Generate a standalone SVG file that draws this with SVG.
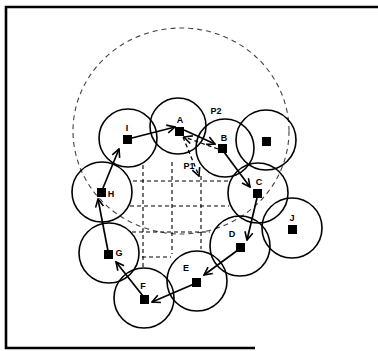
<svg xmlns="http://www.w3.org/2000/svg" width="378" height="351" viewBox="0 0 378 351">
<defs>
<marker id="ah" viewBox="0 0 10 10" refX="9" refY="5" markerWidth="10" markerHeight="10" markerUnits="userSpaceOnUse" orient="auto">
<path d="M1,1 L9,5 L1,9" fill="none" stroke="#000" stroke-width="1.6"/>
</marker>
</defs>
<style>
.rng{fill:none;stroke:#000;stroke-width:1.6}
.sq{fill:#000}
.lbl{font-family:"Liberation Sans",Arial,sans-serif;font-size:9px;font-weight:bold;fill:#000;text-anchor:middle}
.arr{fill:none;stroke:#000;stroke-width:1.7;marker-end:url(#ah)}
.darr{fill:none;stroke:#000;stroke-width:1.3;stroke-dasharray:4 3;marker-end:url(#ah)}
.grid{fill:none;stroke:#000;stroke-width:1.1;stroke-dasharray:4 3}
.big{fill:none;stroke:#444;stroke-width:1.1;stroke-dasharray:5 4}
.frame{fill:none;stroke:#000;stroke-width:2.6}
</style>
<rect width="378" height="351" fill="#fff"/>
<path class="frame" d="M378,7 L6,7 L6,348 L255,348"/>
<ellipse class="big" cx="181" cy="131" rx="108" ry="103"/>
<g id="grid">
<line class="grid" x1="133" y1="181" x2="228" y2="181"/>
<line class="grid" x1="130" y1="206" x2="229" y2="206"/>
<line class="grid" x1="132" y1="232" x2="210" y2="232"/>
<line class="grid" x1="142" y1="257" x2="171" y2="257"/>
<line class="grid" x1="143" y1="165" x2="143" y2="267"/>
<line class="grid" x1="172" y1="162" x2="172" y2="254"/>
<line class="grid" x1="201" y1="176" x2="201" y2="249"/>
</g>
<g id="node-A"><circle class="rng" cx="178" cy="126" r="28"/><rect class="sq" x="175" y="127" width="9" height="9"/><text class="lbl" x="180" y="123">A</text></g>
<g id="node-B"><circle class="rng" cx="225" cy="148" r="29"/><rect class="sq" x="218" y="144" width="9" height="9"/><text class="lbl" x="224" y="141">B</text><text class="lbl" x="216" y="114">P2</text></g>
<g id="node-K"><circle class="rng" cx="266" cy="140" r="30"/><rect class="sq" x="262" y="137" width="9" height="9"/></g>
<g id="node-C"><circle class="rng" cx="258" cy="193" r="30"/><rect class="sq" x="253" y="189" width="9" height="9"/><text class="lbl" x="259" y="185">C</text></g>
<g id="node-J"><circle class="rng" cx="292" cy="228" r="30"/><rect class="sq" x="288" y="225" width="9" height="9"/><text class="lbl" x="292" y="221">J</text></g>
<g id="node-D"><circle class="rng" cx="240" cy="246" r="30"/><rect class="sq" x="236" y="243" width="9" height="9"/><text class="lbl" x="232" y="237">D</text></g>
<g id="node-E"><circle class="rng" cx="197" cy="281" r="30"/><rect class="sq" x="192" y="278" width="9" height="9"/><text class="lbl" x="186" y="271">E</text></g>
<g id="node-F"><circle class="rng" cx="144" cy="298" r="30"/><rect class="sq" x="140" y="295" width="9" height="9"/><text class="lbl" x="143" y="289">F</text></g>
<g id="node-G"><circle class="rng" cx="109" cy="253" r="30"/><rect class="sq" x="104" y="250" width="9" height="9"/><text class="lbl" x="119" y="256">G</text></g>
<g id="node-H"><circle class="rng" cx="102" cy="192" r="30"/><rect class="sq" x="97" y="188" width="9" height="9"/><text class="lbl" x="111" y="197">H</text></g>
<g id="node-I"><circle class="rng" cx="128" cy="138" r="29"/><rect class="sq" x="123" y="135" width="9" height="9"/><text class="lbl" x="127" y="131">I</text></g>
<g id="P1"><text class="lbl" x="189" y="169">P1</text></g>
<g id="connectors">
<line class="arr" x1="103" y1="188" x2="119" y2="149"/>
<line class="arr" x1="132" y1="138" x2="175" y2="127"/>
<line class="arr" x1="184" y1="130" x2="215" y2="144"/>
<line class="darr" x1="218" y1="149" x2="184" y2="137"/>
<line class="darr" x1="183" y1="137" x2="199" y2="176"/>
<line class="arr" x1="224" y1="152" x2="250" y2="187"/>
<line class="arr" x1="257" y1="198" x2="247" y2="240"/>
<line class="arr" x1="238" y1="250" x2="204" y2="275"/>
<line class="arr" x1="194" y1="284" x2="152" y2="302"/>
<line class="arr" x1="143" y1="296" x2="116" y2="262"/>
<line class="arr" x1="108" y1="251" x2="98" y2="199"/>
</g>
</svg>
